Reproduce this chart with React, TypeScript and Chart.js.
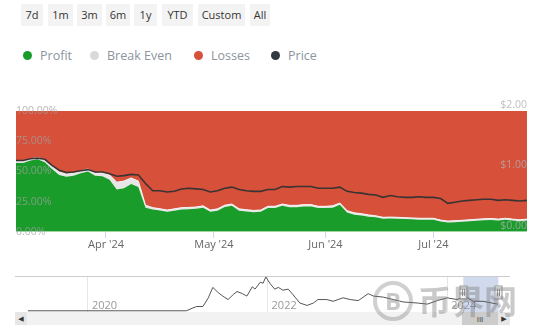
import React, { useEffect, useRef } from "react";
import { Chart, registerables } from "chart.js";

Chart.register(...registerables);

// ---- Main chart data (day offsets from 2024-03-07) ----
const days = [0,2,4,6,8,10,12,14,16,18,20,22,24,26,28,30,32,34,36,38,40,42,44,46,48,50,52,54,56,58,60,62,64,66,68,70,72,74,76,78,80,82,84,86,88,90,92,94,96,98,100,102,104,106,108,110,112,114,116,118,120,122,124,126,128,130,132,134,136,138,140,142];
const profitPct = [57,57,59,60,57.5,52,47,45.5,46.5,48.5,50,46.5,46,43,35,36,39.5,37,20,18.5,17.6,16.5,17.5,18.5,18.7,19,20,16.5,17.5,20.5,21.5,17.5,16.8,16.2,16.5,19.6,19.6,21.5,20.4,20.4,21,21,19.6,19.6,20,22.3,16,14.2,13.5,12.5,12,10.8,11,10.8,10.5,10.3,10,10,10,8.5,7.7,8,8.3,8.8,9.2,9.6,9.8,9.3,10,9.3,8.8,9.3];
const breakEvenPct = [1.5,1.5,1.5,1.5,2.5,2.5,2.5,2.5,2,2,2,2,3,4,6,6,5,5,2,1.5,1.5,1.5,1.5,1.5,1.5,1.5,1.5,1.5,1.5,1.5,1.5,1.5,1.5,1.5,1.5,1.5,1.5,1.5,1.5,1.5,1.5,1.5,1.5,1.5,1.5,1.5,1.5,1.5,1.5,1.5,1.2,1.2,1.2,1.2,1.2,1.2,1.2,1.2,1.2,1.2,1.2,1.2,1.2,1.2,1.2,1.2,1.2,1.2,1.2,1.2,1.2,1.2];
const priceUsd = [1.18,1.18,1.21,1.22,1.20,1.10,1.02,0.98,0.99,1.01,1.03,0.99,0.99,0.96,0.92,0.93,0.95,0.94,0.80,0.68,0.68,0.66,0.67,0.71,0.72,0.71,0.70,0.66,0.68,0.72,0.74,0.70,0.68,0.67,0.67,0.70,0.70,0.75,0.74,0.75,0.75,0.75,0.72,0.72,0.72,0.74,0.67,0.65,0.64,0.62,0.61,0.57,0.60,0.58,0.57,0.57,0.58,0.57,0.57,0.55,0.47,0.49,0.51,0.52,0.53,0.54,0.54,0.52,0.53,0.52,0.51,0.52];
const monthTickDays = [25, 55, 86, 116];
const monthLabels = ["Apr '24", "May '24", "Jun '24", "Jul '24"];
const pctTicks = [0, 25, 50, 75, 100];
const usdTicks = [0, 1, 2];

// ---- Navigator data (year, price) ----
const navYears = [2019.33,2021.08,2021.10,2021.16,2021.21,2021.28,2021.34,2021.39,2021.45,2021.50,2021.56,2021.62,2021.66,2021.72,2021.77,2021.83,2021.86,2021.92,2021.95,2021.98,2022.03,2022.08,2022.12,2022.17,2022.23,2022.28,2022.36,2022.44,2022.51,2022.56,2022.66,2022.73,2022.84,2022.92,2023.01,2023.12,2023.18,2023.29,2023.40,2023.51,2023.67,2023.78,2023.89,2024.00,2024.11,2024.20,2024.29,2024.40,2024.56];
const navPrice = [0.02,0.02,0.03,0.21,0.34,0.34,0.99,1.77,1.38,1.12,0.86,1.25,1.46,1.30,1.12,1.82,1.64,2.16,2.08,2.55,2.03,1.64,1.77,1.56,1.64,1.25,0.60,0.42,0.60,0.86,0.86,0.73,0.99,0.86,0.78,1.30,1.12,1.04,0.86,0.68,0.60,0.52,0.78,0.99,0.86,1.12,0.73,0.73,0.52];
const navYearTicks = [2020, 2022, 2024];
const navRange = [2024.18, 2024.57];

const rangeButtons = ["7d", "1m", "3m", "6m", "1y", "YTD", "Custom", "All"];
const buttonX = [21, 48, 77, 106, 134, 162, 198, 250];
const buttonW = [22, 25, 25, 24, 23, 31, 47, 20];

const legendItems = ["Profit", "Break Even", "Losses", "Price"];
const legendColors = ["#1a9c2b", "#d9d9d9", "#d6503a", "#343840"];
const legendDotX = [28, 95, 199, 276];

const GREEN = "#1a9c2b";
const RED = "#d6503a";
const BE = "#e6e6e6";
const FONT = "'Open Sans', 'DejaVu Sans', sans-serif";

export default function App() {
  const mainRef = useRef<HTMLCanvasElement>(null);
  const navRef = useRef<HTMLCanvasElement>(null);

  useEffect(() => {
    Chart.defaults.font.family = FONT;
    const profitPts = days.map((d, i) => ({ x: d, y: profitPct[i] }));
    const bePts = days.map((d, i) => ({ x: d, y: breakEvenPct[i] }));
    const lossPts = days.map((d, i) => ({ x: d, y: 100 - profitPct[i] - breakEvenPct[i] }));
    const pricePts = days.map((d, i) => ({ x: d, y: priceUsd[i] }));

    const main = new Chart(mainRef.current!, {
      type: "line",
      data: {
        datasets: [
          { label: "Price", data: pricePts, yAxisID: "y1", borderColor: "#3a3333", borderWidth: 1.6, pointRadius: 0, fill: false, tension: 0 },
          { label: "Profit", data: profitPts, yAxisID: "y", borderWidth: 0, borderColor: GREEN, backgroundColor: GREEN, pointRadius: 0, fill: "origin", tension: 0 },
          { label: "Break Even", data: bePts, yAxisID: "y", borderWidth: 1, borderColor: "#f2f2f2", backgroundColor: BE, pointRadius: 0, fill: "-1", tension: 0 },
          { label: "Losses", data: lossPts, yAxisID: "y", borderWidth: 0, borderColor: RED, backgroundColor: RED, pointRadius: 0, fill: "-1", tension: 0 },
        ],
      },
      options: {
        animation: false,
        responsive: false,
        maintainAspectRatio: false,
        layout: { padding: { top: 21, bottom: 9, left: 16, right: 13 } },
        plugins: { legend: { display: false }, tooltip: { enabled: false } },
        scales: {
          x: {
            type: "linear",
            min: days[0],
            max: days[days.length - 1],
            afterBuildTicks: (axis: any) => { axis.ticks = monthTickDays.map((v) => ({ value: v })); },
            grid: { drawOnChartArea: false, drawTicks: true, tickLength: 6, color: "#ccd6eb" },
            border: { display: false },
            ticks: {
              padding: 0,
              color: "#666666",
              font: { size: 11 },
              maxRotation: 0,
              autoSkip: false,
              callback: (v: any) => { const i = monthTickDays.indexOf(v); return i >= 0 ? monthLabels[i] : ""; },
            },
          },
          y: {
            type: "linear",
            position: "left",
            stacked: true,
            min: 0,
            max: 100,
            afterBuildTicks: (axis: any) => { axis.ticks = pctTicks.map((v) => ({ value: v })); },
            grid: { display: false, drawTicks: false },
            border: { display: false },
            ticks: { z: 1, mirror: true, padding: 0, autoSkip: false, color: "rgba(160,160,160,0.75)", font: { size: 10.5 }, callback: (v: any) => Number(v).toFixed(2) + "%" },
          },
          y1: {
            type: "linear",
            position: "right",
            min: 0,
            max: 2,
            afterBuildTicks: (axis: any) => { axis.ticks = usdTicks.map((v) => ({ value: v })); },
            grid: { display: false, drawTicks: false },
            border: { display: false },
            ticks: { z: 1, mirror: true, padding: 0, autoSkip: false, labelOffset: -6, color: "rgba(175,175,175,0.8)", font: { size: 10.5 }, callback: (v: any) => "$" + Number(v).toFixed(2) },
          },
        },
      },
    });

    const navShade = {
      id: "navShade",
      beforeDatasetsDraw(chart: any) {
        const { ctx, chartArea, scales } = chart;
        const x0 = scales.x.getPixelForValue(navRange[0]);
        const x1 = scales.x.getPixelForValue(navRange[1]);
        ctx.save();
        ctx.fillStyle = "rgba(102,133,194,0.3)";
        ctx.fillRect(x0, chartArea.top, x1 - x0, chartArea.bottom - chartArea.top);
        ctx.restore();
      },
      afterDatasetsDraw(chart: any) {
        const { ctx, scales, chartArea } = chart;
        ctx.save();
        ctx.strokeStyle = "#cccccc";
        ctx.lineWidth = 1;
        ctx.beginPath();
        ctx.moveTo(chartArea.left, chartArea.top + 0.5);
        ctx.lineTo(chartArea.right, chartArea.top + 0.5);
        ctx.stroke();
        for (const v of navRange) {
          const px = Math.round(scales.x.getPixelForValue(v)) + 0.5;
          ctx.fillStyle = "#f2f2f2";
          ctx.strokeStyle = "#999999";
          ctx.fillRect(px - 3.5, chartArea.top + 10, 7, 13);
          ctx.strokeRect(px - 3.5, chartArea.top + 10, 7, 13);
          ctx.beginPath();
          ctx.moveTo(px - 1, chartArea.top + 13);
          ctx.lineTo(px - 1, chartArea.top + 20);
          ctx.moveTo(px + 1, chartArea.top + 13);
          ctx.lineTo(px + 1, chartArea.top + 20);
          ctx.stroke();
        }
        ctx.restore();
      },
    };

    const nav = new Chart(navRef.current!, {
      type: "line",
      data: {
        datasets: [
          { label: "nav", data: navYears.map((x, i) => ({ x, y: navPrice[i] })), borderColor: "#555555", borderWidth: 1, pointRadius: 0, fill: false, tension: 0 },
        ],
      },
      options: {
        animation: false,
        responsive: false,
        maintainAspectRatio: false,
        layout: { padding: { top: 6, bottom: 0, left: 15, right: 30 } },
        plugins: { legend: { display: false }, tooltip: { enabled: false } },
        scales: {
          x: {
            type: "linear",
            min: 2019.187,
            max: 2024.70,
            afterBuildTicks: (axis: any) => { axis.ticks = navYearTicks.map((v) => ({ value: v })); },
            grid: { drawOnChartArea: true, drawTicks: false, color: "#e6e6e6" },
            border: { display: false },
            ticks: { mirror: true, padding: 0, align: "start", labelOffset: 4, color: "#999999", font: { size: 11 }, maxRotation: 0, autoSkip: false, callback: (v: any) => String(v) },
          },
          y: { display: false, min: -0.07, max: 2.62 },
        },
      },
      plugins: [navShade],
    });

    return () => { main.destroy(); nav.destroy(); };
  }, []);

  return (
    <div style={{ position: "absolute", left: 0, top: 0, width: 540, height: 336, background: "#ffffff", overflow: "hidden", fontFamily: FONT }}>
      {rangeButtons.map((b, i) => (
        <div key={b} style={{ position: "absolute", left: buttonX[i], top: 4, width: buttonW[i], height: 22, background: "#f3f3f3", color: "#333333", fontSize: 11, lineHeight: "22px", textAlign: "center" }}>{b}</div>
      ))}
      {legendItems.map((t, i) => (
        <div key={t} style={{ position: "absolute", left: legendDotX[i] - 5, top: 45, height: 20, display: "flex", alignItems: "center", whiteSpace: "nowrap" }}>
          <span style={{ display: "inline-block", width: 9, height: 9, borderRadius: "50%", background: legendColors[i], marginRight: 8 }} />
          <span style={{ color: "#8c949e", fontSize: 12.5 }}>{t}</span>
        </div>
      ))}
      <canvas ref={mainRef} width={540} height={170} style={{ position: "absolute", left: 0, top: 90, width: 540, height: 170 }} />
      <canvas ref={navRef} width={540} height={42} style={{ position: "absolute", left: 0, top: 270, width: 540, height: 42 }} />
      {/* scrollbar */}
      <div style={{ position: "absolute", left: 15, top: 312, width: 495, height: 13, background: "#f2f2f2" }} />
      <div style={{ position: "absolute", left: 15, top: 312, width: 12, height: 13, background: "#e6e6e6", color: "#333", fontSize: 7, lineHeight: "13px", textAlign: "center" }}>◀</div>
      <div style={{ position: "absolute", left: 462, top: 312, width: 36, height: 13, background: "#cccccc", color: "#333", fontSize: 8, lineHeight: "13px", textAlign: "center" }}>III</div>
      <div style={{ position: "absolute", left: 498, top: 312, width: 12, height: 13, background: "#e6e6e6", color: "#333", fontSize: 7, lineHeight: "13px", textAlign: "center" }}>▶</div>
      {/* watermark */}
      <div style={{ position: "absolute", left: 373, top: 281, width: 32, height: 32, borderRadius: "50%", border: "4px solid rgba(120,120,120,0.35)", color: "rgba(120,120,120,0.4)", fontSize: 24, fontWeight: 700, lineHeight: "32px", textAlign: "center" }}>B</div>
      <div style={{ position: "absolute", left: 418, top: 280, color: "rgba(120,120,120,0.4)", fontSize: 33, fontWeight: 700, lineHeight: "40px", fontFamily: "'Noto Sans CJK SC', sans-serif" }}>币界网</div>
    </div>
  );
}
